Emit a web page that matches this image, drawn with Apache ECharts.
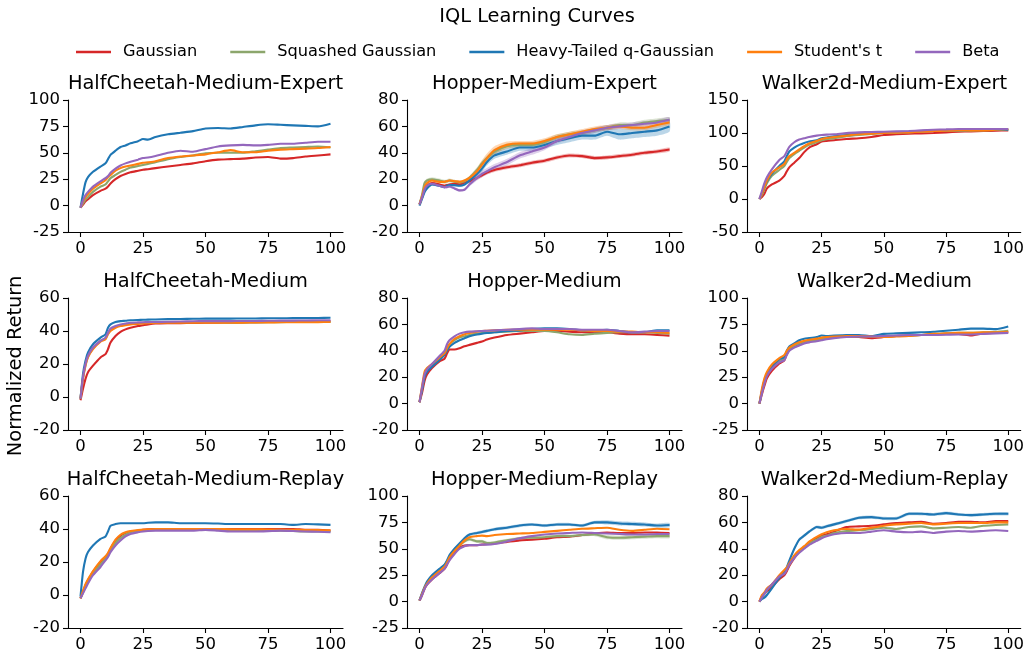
<!DOCTYPE html>
<html><head><meta charset="utf-8">
<script src="https://cdn.jsdelivr.net/npm/echarts@6/dist/echarts.min.js"></script>
<style>html,body{margin:0;padding:0;background:#fff}#c{width:1027px;height:659px}</style>
</head><body><div id="c"></div>
<script>
// ---------------- data ----------------
const X = [0,1,2,3,5,8,10,11,12,14,16,18,20,23,25,27,30,35,40,45,50,55,60,65,70,75,80,85,90,95,100];
const methods = ['Gaussian','Squashed Gaussian','Heavy-Tailed q-Gaussian',"Student's t",'Beta'];
const xTicks = [0,25,50,75,100];

// HalfCheetah-Medium-Expert
const hcME_gauss   = [-2,1,4,6,10,14,16,18,21,25,28,30,31.5,33,34,34.5,35.5,37,38.5,40,42,43.5,44,44.5,45.5,46,44.5,45,46.5,47.5,48.5];
const hcME_squash  = [-2,2,6,8,13,18,20,23,26,29,32,34,36,37.5,38.5,39.5,41,44,46,47.5,49.5,50,50,50,51.5,53,54.5,55,55.5,56,55];
const hcME_qgauss  = [-2,11,22,27,32,37,40,44,48,52,55.5,57,59,61,63,62.5,65,67.5,69,70.5,73,73.5,73,74.5,76,77,76.5,76,75.5,75,77.5];
const hcME_student = [-2,4,8,11,16,21,24,27,29,33,35.5,37,38,39.5,40.5,41,42,45,46.5,47.5,48.5,50.5,52.5,50.5,50.5,52,53,53.5,54,54.5,55.5];
const hcME_beta    = [-2,5,10,13,18,23,26,28,31,35,38,40,41.5,43.5,45,45.5,47,50,52,51,53.5,56,57,57.5,57,57.5,58.5,58.5,59.5,60.5,60.5];

// Hopper-Medium-Expert
const hoME_gauss   = [1,6,12,15,17,16,15,15.5,16,16.5,16,17.5,18.5,21,23,25,27,29,30.5,32.5,34,36.5,38,37.5,36,36.5,37.5,38.5,40,41,42.5];
const hoME_squash  = [1,8,17,19,20,19,18,18.5,19,18,17.5,18.5,21,27,32,36,41,45,46,46,48,52,54,55,57,59,61,61,63,64,65];
const hoME_qgauss  = [0,5,10,13,16,15,14,15,15.5,15.5,15,16,19,24,28,33,38,41,44,44,46,49,51,53,53,56,54,55,56,57,60];
const hoME_student = [1,7,14,17,19,18,18,18.5,19,18.5,18,19,21,26,31,36,42,46,47,47,49,52,54,56,58,59,60,59,59,61,63];
const hoME_beta    = [1,6,12,15,16.5,15,14,14,14.5,13,11.5,12,16,21,24,26,29,33,38,41,44,49,52,55,57,59,60,61,62,63,65];
// shaded half-widths (Hopper-Medium-Expert)
const hoME_gauss_sd   = [0.5,1,1,1,1,1,1,1,1,1,1,1,1.5,1.5,1.5,1.5,1.5,1.5,1.5,1.5,1.5,1.5,1.5,1.5,1.5,1.5,1.5,1.5,1.5,1.5,1.5];
const hoME_squash_sd  = [0.5,1,1.5,1.5,1.5,1.5,1.5,1.5,1.5,1.5,1.5,1.5,1.5,2,2,2,2,2,2,2,2,2,2,2,2,2,2,2,2,2,2];
const hoME_qgauss_sd  = [0.5,1,1,1,1,1,1,1,1,1,1,1,1.5,2,2.5,2.5,2.5,2.5,2.5,2.5,2.5,3,3,3,3,3,4,4,4,4,4];
const hoME_student_sd = [0.5,1,1,1,1,1,1,1,1,1,1,1,1.5,2.5,3.5,3.5,3,2.5,2,2,2,2,2,2,2,2,2,2,2,2,2];
const hoME_beta_sd    = [0.5,1,1,1,1,1,1,1,1,1,1,1,1.5,2,2.5,2.5,2.5,2.5,2.5,2.5,2,2,2,2,2,2,2,2,2,2,2];

// Walker2d-Medium-Expert
const waME_gauss   = [0,3,8,16,22,28,35,42,48,55,62,71,78,83,87,88,89,91,92,94,97,98,99,99.5,100,101,102,102.5,103,103.5,104];
const waME_squash  = [0,6,15,24,35,44,50,56,62,68,73,78,82,86,89,90.5,92,95,97,98.5,100,100.5,101,102,103,103,103,103.5,104,104.5,105];
const waME_qgauss  = [0,8,18,27,38,50,57,65,72,78,82,85,87,89,92,93,95,97,99,100,101,101.5,102,103,104,104,104,104.5,105,105,105];
const waME_student = [0,8,18,28,40,48,53,60,65,70,75,80,84,88,91,92.5,94,96,98,99,100,100.5,101,102,103,103.5,104,104,104,105,106];
const waME_beta    = [0,12,24,33,45,59,65,72,79,86,90,92,94,96,97,97.5,98,100,101,101.5,102,102.5,103,104,105,105.5,106,106,106,106,106];

// HalfCheetah-Medium
const hcM_gauss   = [-2,5,11,15,19,24,26,29,33,37,39.5,41,42,43,43.5,44,44.5,44.7,44.8,44.9,45,45.1,45.2,45.3,45.4,45.5,45.6,45.7,45.8,45.9,46];
const hcM_squash  = [-1,11.5,19.5,24.5,29.5,34,35.5,38.5,40.5,42.5,43.5,44,44.5,44.7,44.9,45,45.2,45.3,45.3,45.3,45.3,45.2,45,45.1,45.2,45.3,45.4,45.5,45.5,45.5,45.5];
const hcM_qgauss  = [-1,14,22,27,32,36,38,42,44,45.5,46,46.2,46.5,46.7,46.8,46.9,47,47.2,47.3,47.4,47.5,47.5,47.5,47.6,47.6,47.7,47.7,47.8,47.8,47.9,48];
const hcM_student = [-1,11,19,24,29,33.5,35,38,40,42,43,43.5,44,44.3,44.5,44.7,45,45,45,45,45,45,45.1,45.1,45.2,45.2,45.3,45.3,45.4,45.4,45.5];
const hcM_beta    = [-1,12,20,25,30,34,36,39,41.5,43,44,44.5,45,45.2,45.3,45.4,45.5,45.6,45.8,45.9,46,46,46,46.1,46.1,46.2,46.3,46.3,46.4,46.5,46.5];

// Hopper-Medium
const hoM_gauss   = [1,8,17,22,27,32,34,38,41,41,42,43.5,44.5,46,47,48.5,50,52,53,54,55,55,54.5,54,54,54,53,52.5,52.5,52,51.5];
const hoM_squash  = [1,11,21,25,29,34,38,42,45,48,50,51,52,53,53.5,53.8,54,54.5,55,55,55,54,52.5,52,53,53.5,54,54,54,53.5,53];
const hoM_qgauss  = [1,10,20,24,28,33,37,40,43,46,48,49.5,51,52.3,53,53.5,54,55,55.5,56.5,57,57,56.5,55.5,55.5,56,55,54,54,55.5,55.5];
const hoM_student = [1,13,24,27,30,35,38,42,45,49,51,52.5,53.5,54.5,55,55.2,55.5,56,56,56,56,56,56,55.5,55,55,54.5,54.5,54,54,53.5];
const hoM_beta    = [1,12,22,26,30,36,40,45,48,51,53,54,54.5,54.8,55,55.2,55.5,56,56.5,57,56.5,56.5,56.5,56,56,56,55,54,54.5,55,55];

// Walker2d-Medium
const waM_gauss   = [0,9,17,24,31,38,41,47,51,54,56.5,58,59,60.5,61.5,62,63,63.5,63,62,63,64,64.5,65,65.5,66,66,64.5,66.5,67,67.5];
const waM_squash  = [0,11,20,27,34,40,43,49,52,55,57,58.5,59.5,60.5,61.5,62,62.5,63.5,63.5,63.5,63.5,64,64.5,65,66,66.5,67,67,67.5,68,69];
const waM_qgauss  = [0,12,22,28,35,42,44,50,54,57,60,61.5,62,63,64.5,64,64.5,65,65,64,66,66.5,67,67.5,68,69,70,71,71,70.5,73];
const waM_student = [0,14,24,30,37,43,46,50,53,56,58,59.5,60.5,61.5,62.5,63,63.5,64,64,63.5,63,63.5,64,65,66,66.5,67,67,67.5,67.5,68];
const waM_beta    = [0,10,19,26,33,39,41,46,50,53,55,57,58,59,60,61,62,63,63.5,63.5,64,64.5,65,65,65,65.2,65.5,65.5,66,66.5,67];

// HalfCheetah-Medium-Replay
const hcMR_gauss   = [-2,2,6,9,14,20,23,25,28,33,36,37.5,38.5,39,39.5,39.8,40,40,40,40,40,40,40,40,40,40,40,40,39.5,39.5,39];
const hcMR_squash  = [-2,1.5,5,8,13,18.5,22,24,27,31.5,34.5,36.5,38,38.7,39,39.3,39.5,39.5,39.5,39.5,39.5,39.5,39.5,39.2,39,39,39,38.8,38.5,38.5,38.5];
const hcMR_qgauss  = [-1,14,22,26,30,34,35.5,38.5,42,43,43.5,43.5,43.5,43.5,43.5,43.8,44,44,43.5,43.5,43.5,43.3,43,43,43,43,43,42.5,43,42.8,42.5];
const hcMR_student = [-2,2.5,6.5,9.5,14.5,20.5,23.5,25.5,28.5,33.5,36.5,38,38.8,39.3,39.6,39.8,40,40,40,40,40,40,39.8,39.8,39.8,39.7,39.6,39.5,39.4,39.3,39.2];
const hcMR_beta    = [-2,1,4,7,12,17,21,23,26,30,33,35.5,37,38,38.5,38.8,39,39,39,39,39.5,39,38.5,38.5,38.5,38.7,39,38.8,38.5,38.3,38];

// Hopper-Medium-Replay
const hoMR_gauss   = [1,6,12,16,21,27,31,35,40,46,51,53,53.5,53.5,54,54.5,55,56.5,58,58.5,59.5,61,61.5,63,64.5,65.5,65,65,65.5,65.5,65];
const hoMR_squash  = [1,7,13,17,24,30,34,38,42,48,53,57,59,57,57,55.5,56,58,60,60.5,61,62,62,63,63.5,61,60.5,61,61.5,62,62];
const hoMR_qgauss  = [1,8,14,19,25,31,35,39,44,50,55,60,63.5,65,66,67,68.5,70,72,73,72,73,73,72,75,75,74,73.5,73,72,72.5];
const hoMR_student = [1,7,13,17,23,29,33,37,42,48,53,58,61,62,62.5,62,63,64,64.5,65,66,67,68,69,69.5,70,68,67,68,69,68.5];
const hoMR_beta    = [1,6,12,16,21,27,31,35,39,45,50,52.5,53.5,53.5,54,54,54.5,57,60,62,63.5,64.5,65,65.5,65,64.5,64,63.5,63.5,64,64];
const hoMR_squash_sd = [0.5,1,1,1,1,1,1,1,1,1.5,1.5,1.5,1.5,1.5,1.5,1.5,1.5,1.5,1.5,1.5,1.5,1.5,1.5,1.5,1.5,2,2,2,2,2,2];
const hoMR_qgauss_sd = [0.5,1,1,1,1,1,1,1,1,1.5,1.5,1.5,1.5,1.5,1.5,1.5,1.5,1.5,1.5,1.5,1.5,1.5,1.5,1.5,1.5,2,2,2,2,2,2];

// Walker2d-Medium-Replay
const waMR_gauss   = [0,4,6,8,11,17,20,23,27,33,38,41,44.5,48,50,51,53,56.5,57,57.5,58.5,59.5,60,60.5,59,59.5,60.5,60.5,60,61,61];
const waMR_squash  = [0,3,6,9,13,19,22,25,28,34,38,41,44,47,49,50,52,53.5,54,55,56,55,56.5,57,55.5,56,56.5,56,57.5,58,58.5];
const waMR_qgauss  = [0,2,3,5,10,18,22,26,31,40,47,50,53,56.5,56,57,58.5,61,63.5,64,63,63,66.5,66.5,66,67,66,65.5,66,66.5,66.5];
const waMR_student = [0,5,7,10,13,20,24,26,29,35,39,42,45.5,49,51,52.5,54,55,54.5,56,57.5,58.5,59,59.5,58.5,59,59.5,59.5,59.5,60,60];
const waMR_beta    = [0,3,6,9,13,19,21,24,28,33,37,40,43,46,48,49.5,51,52,52,53,54,53,52.5,53,52,53,53.5,53,53.5,54,53.5];
const waMR_qgauss_sd = [0.5,1,1,1,1,1,1,1,1,1.2,1.2,1.2,1.2,1.2,1.2,1.2,1.2,1.2,1.2,1.2,1.2,1.2,1.2,1.2,1.2,1.2,1.2,1.2,1.2,1.2,1.2];

const titles = ['HalfCheetah-Medium-Expert','Hopper-Medium-Expert','Walker2d-Medium-Expert',
                'HalfCheetah-Medium','Hopper-Medium','Walker2d-Medium',
                'HalfCheetah-Medium-Replay','Hopper-Medium-Replay','Walker2d-Medium-Replay'];
const yMins = [-25,-20,-50, -20,-20,-25, -20,-25,-20];
const yMaxs = [100,80,150, 60,80,100, 60,100,80];
const yInts = [25,20,50, 20,20,25, 20,25,20];

const panelData = [
  [hcME_gauss,hcME_squash,hcME_qgauss,hcME_student,hcME_beta],
  [hoME_gauss,hoME_squash,hoME_qgauss,hoME_student,hoME_beta],
  [waME_gauss,waME_squash,waME_qgauss,waME_student,waME_beta],
  [hcM_gauss,hcM_squash,hcM_qgauss,hcM_student,hcM_beta],
  [hoM_gauss,hoM_squash,hoM_qgauss,hoM_student,hoM_beta],
  [waM_gauss,waM_squash,waM_qgauss,waM_student,waM_beta],
  [hcMR_gauss,hcMR_squash,hcMR_qgauss,hcMR_student,hcMR_beta],
  [hoMR_gauss,hoMR_squash,hoMR_qgauss,hoMR_student,hoMR_beta],
  [waMR_gauss,waMR_squash,waMR_qgauss,waMR_student,waMR_beta]
];
const panelBands = [
  [null,null,null,null,null],
  [hoME_gauss_sd,hoME_squash_sd,hoME_qgauss_sd,hoME_student_sd,hoME_beta_sd],
  [null,null,null,null,null],
  [null,null,null,null,null],
  [null,null,null,null,null],
  [null,null,null,null,null],
  [null,null,null,null,null],
  [null,hoMR_squash_sd,hoMR_qgauss_sd,null,null],
  [null,null,waMR_qgauss_sd,null,null]
];

// ---------------- layout / style ----------------
const FONT = 'DejaVu Sans';
const colors = ['#d62728','#8ca66c','#1f77b4','#ff7f0e','#9467bd'];
function rgba(hex, a) {
  const n = parseInt(hex.slice(1), 16);
  return 'rgba(' + ((n >> 16) & 255) + ',' + ((n >> 8) & 255) + ',' + (n & 255) + ',' + a + ')';
}
const colLeft = [68, 407, 747];
const rowTop = [100, 298, 496];
const GW = 275, GH = 132;

function bandSeries(i, s, vals, sd) {
  const pts = X.map((x, k) => [x, vals[k] - sd[k], vals[k] + sd[k]]);
  return {
    type: 'custom', xAxisIndex: i, yAxisIndex: i, silent: true, z: 1,
    data: pts, encode: {x: 0, y: [1, 2]},
    renderItem: function (params, api) {
      if (params.dataIndex !== 0) return null;
      const upper = pts.map(p => api.coord([p[0], p[2]]));
      const lower = pts.map(p => api.coord([p[0], p[1]])).reverse();
      return {type: 'polygon', shape: {points: upper.concat(lower), smooth: 0.2},
              style: {fill: rgba(colors[s], 0.3), stroke: null}};
    }
  };
}

const grids = [], xAxes = [], yAxes = [], series = [], graphics = [];
for (let i = 0; i < 9; i++) {
  const r = Math.floor(i / 3), c = i % 3;
  grids.push({left: colLeft[c], top: rowTop[r], width: GW, height: GH, containLabel: false});
  const axLine = {show: true, onZero: false, lineStyle: {color: '#000', width: 1.1}};
  xAxes.push({
    type: 'value', gridIndex: i, min: -5, max: 105,
    axisLine: axLine,
    axisTick: {show: true, length: 5, lineStyle: {color: '#000', width: 1.1}, customValues: xTicks},
    axisLabel: {show: true, customValues: xTicks, fontSize: 16.5, fontFamily: FONT, color: '#000', margin: 8},
    splitLine: {show: false}
  });
  yAxes.push({
    type: 'value', gridIndex: i, min: yMins[i], max: yMaxs[i], interval: yInts[i],
    axisLine: axLine,
    axisTick: {show: true, length: 5, lineStyle: {color: '#000', width: 1.1}},
    axisLabel: {show: true, fontSize: 16.5, fontFamily: FONT, color: '#000', margin: 8},
    splitLine: {show: false}
  });
  graphics.push({
    type: 'text', x: colLeft[c] + GW / 2, y: rowTop[r] - 16,
    style: {text: titles[i], fontSize: 19.4, fontFamily: FONT, fill: '#000', align: 'center', verticalAlign: 'middle'}
  });
  for (let s = 0; s < 5; s++) {
    const sd = panelBands[i][s];
    if (sd) series.push(bandSeries(i, s, panelData[i][s], sd));
  }
  for (let s = 0; s < 5; s++) {
    const vals = panelData[i][s];
    series.push({
      type: 'line', name: methods[s], xAxisIndex: i, yAxisIndex: i,
      data: X.map((x, k) => [x, vals[k]]),
      symbol: 'none', showSymbol: false, smooth: 0.2,
      lineStyle: {width: 2.1, color: colors[s]}, itemStyle: {color: colors[s]}, z: 2
    });
  }
}
graphics.push({
  type: 'text', x: 537, y: 17,
  style: {text: 'IQL Learning Curves', fontSize: 19.4, fontFamily: FONT, fill: '#000', align: 'center', verticalAlign: 'middle'}
});
graphics.push({
  type: 'text', x: 16, y: 366, rotation: Math.PI / 2,
  style: {text: 'Normalized Return', fontSize: 19.4, fontFamily: FONT, fill: '#000', align: 'center', verticalAlign: 'middle'}
});

const chart = echarts.init(document.getElementById('c'), null, {renderer: 'canvas'});
chart.setOption({
  animation: false,
  backgroundColor: '#fff',
  textStyle: {fontFamily: FONT},
  legend: {
    data: methods, left: 71, top: 39, icon: 'rect', itemWidth: 35, itemHeight: 2.5, itemGap: 33,
    textStyle: {fontSize: 16.2, fontFamily: FONT, color: '#000', padding: [0, 0, 0, 7]}
  },
  grid: grids, xAxis: xAxes, yAxis: yAxes, series: series, graphic: graphics
});
</script></body></html>
